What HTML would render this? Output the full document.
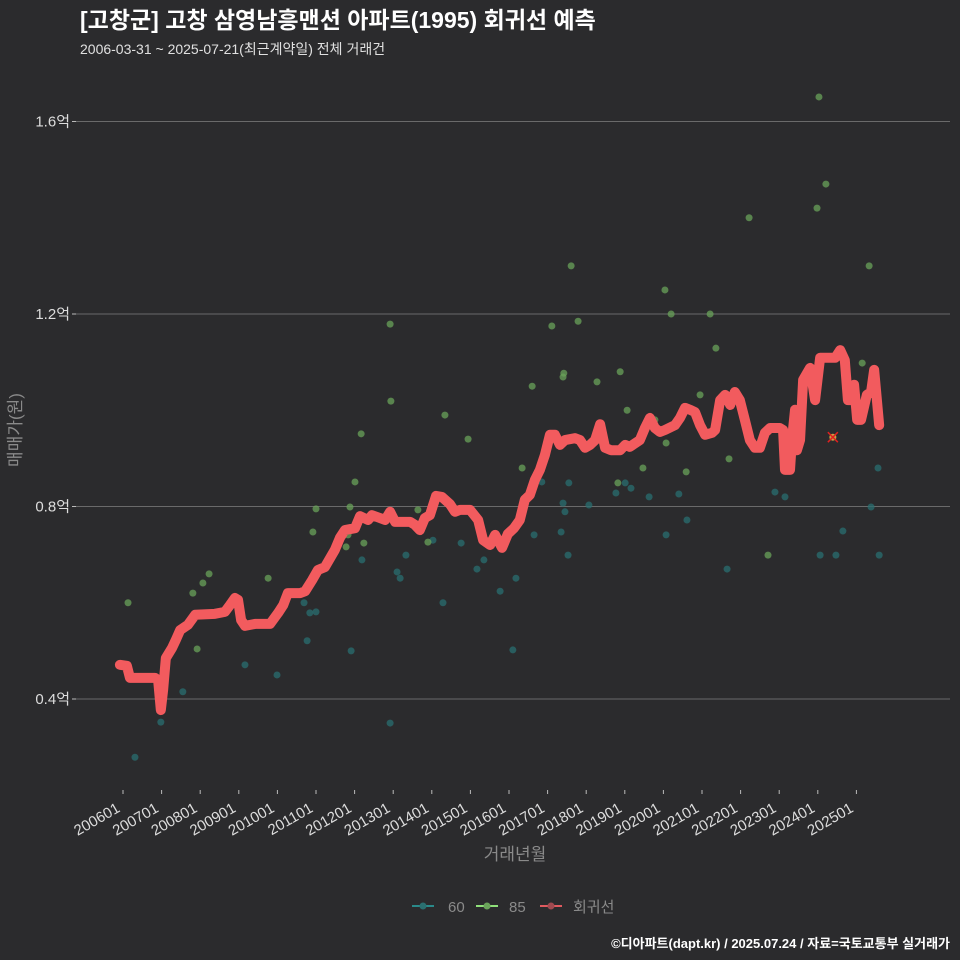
<!DOCTYPE html>
<html><head><meta charset="utf-8"><style>
html,body{margin:0;padding:0;background:#2b2b2d;}
body{width:960px;height:960px;overflow:hidden;font-family:"Liberation Sans","Noto Sans CJK KR",sans-serif;}
</style></head><body>
<svg id="chart" width="960" height="960" xmlns="http://www.w3.org/2000/svg" style="font-family:'Liberation Sans','Noto Sans CJK KR',sans-serif;display:block">
<rect width="960" height="960" fill="#2b2b2d"/>
<text x="80" y="28" fill="#ffffff" font-size="23" font-weight="bold">[고창군] 고창 삼영남흥맨션 아파트(1995) 회귀선 예측</text>
<text x="80" y="54" fill="#e0e0e0" font-size="14">2006-03-31 ~ 2025-07-21(최근계약일) 전체 거래건</text>
<g id="grid"></g>
<g id="yaxis"></g>
<g id="xaxis"></g>
<g id="dots60"></g>
<g id="dots85"></g>
<g id="reg"></g>
<text x="0" y="0" transform="translate(21,430) rotate(-90)" text-anchor="middle" fill="#8a8a8a" font-size="17">매매가(원)</text>
<text x="515" y="860" text-anchor="middle" fill="#8a8a8a" font-size="17">거래년월</text>
<g>
<g><line x1="412" y1="906" x2="434" y2="906" stroke="#2a8a8a" stroke-width="2"/><circle cx="423" cy="906" r="3.5" fill="#2a6f70"/><text x="448" y="912" fill="#8a8a8a" font-size="15">60</text></g>
<g><line x1="476" y1="906" x2="498" y2="906" stroke="#8fe07a" stroke-width="2"/><circle cx="487" cy="906" r="3.5" fill="#6aa35a"/><text x="509" y="912" fill="#8a8a8a" font-size="15">85</text></g>
<g><line x1="540" y1="906" x2="562" y2="906" stroke="#e05a5f" stroke-width="2"/><circle cx="551" cy="906" r="3.5" fill="#a04a50"/><text x="573" y="912" fill="#8a8a8a" font-size="15">회귀선</text></g>
</g>
<text x="950" y="948" text-anchor="end" fill="#ffffff" font-size="13" font-weight="bold">©디아파트(dapt.kr) / 2025.07.24 / 자료=국토교통부 실거래가</text>
</svg>
<script>
const yTicks=[0.4,0.8,1.2,1.6];
const yTickLabels=["0.4억","0.8억","1.2억","1.6억"];
const xTickYears=[2006,2007,2008,2009,2010,2011,2012,2013,2014,2015,2016,2017,2018,2019,2020,2021,2022,2023,2024,2025];
const xTickLabels=["200601","200701","200801","200901","201001","201101","201201","201301","201401","201501","201601","201701","201801","201901","202001","202101","202201","202301","202401","202501"];
const regT=[2005.92,2006.10,2006.18,2006.83,2006.91,2006.98,2007.04,2007.11,2007.27,2007.37,2007.48,2007.68,2007.87,2008.38,2008.64,2008.77,2008.90,2008.98,2009.06,2009.16,2009.42,2009.81,2010.02,2010.15,2010.27,2010.59,2010.72,2010.90,2011.05,2011.23,2011.49,2011.62,2011.75,2012.01,2012.14,2012.35,2012.45,2012.66,2012.79,2012.92,2013.05,2013.18,2013.44,2013.56,2013.69,2013.82,2013.95,2014.11,2014.26,2014.47,2014.60,2014.73,2014.99,2015.20,2015.33,2015.51,2015.64,2015.82,2015.97,2016.13,2016.28,2016.41,2016.54,2016.67,2016.80,2016.93,2017.06,2017.19,2017.32,2017.45,2017.71,2017.84,2017.97,2018.10,2018.23,2018.36,2018.49,2018.64,2018.88,2019.01,2019.13,2019.39,2019.52,2019.65,2019.78,2019.91,2020.04,2020.30,2020.43,2020.56,2020.69,2020.82,2020.95,2021.08,2021.26,2021.34,2021.47,2021.60,2021.73,2021.85,2021.98,2022.11,2022.24,2022.37,2022.50,2022.63,2022.76,2023.02,2023.10,2023.15,2023.28,2023.33,2023.41,2023.46,2023.54,2023.62,2023.80,2023.93,2024.06,2024.19,2024.45,2024.58,2024.70,2024.78,2024.86,2024.94,2025.02,2025.12,2025.27,2025.38,2025.46,2025.59];
const regV=[0.471,0.469,0.444,0.444,0.439,0.377,0.419,0.485,0.506,0.523,0.543,0.554,0.575,0.577,0.581,0.595,0.610,0.606,0.564,0.552,0.556,0.556,0.579,0.595,0.620,0.620,0.624,0.647,0.668,0.674,0.710,0.735,0.751,0.755,0.780,0.772,0.782,0.776,0.772,0.789,0.768,0.768,0.768,0.762,0.751,0.776,0.782,0.822,0.820,0.805,0.789,0.793,0.793,0.772,0.730,0.720,0.741,0.714,0.743,0.755,0.772,0.814,0.824,0.855,0.876,0.907,0.949,0.949,0.928,0.938,0.942,0.938,0.922,0.928,0.938,0.971,0.922,0.917,0.917,0.928,0.924,0.938,0.963,0.984,0.963,0.955,0.959,0.969,0.984,1.005,1.001,0.996,0.969,0.949,0.953,0.959,1.021,1.032,1.011,1.038,1.021,0.980,0.938,0.922,0.922,0.953,0.963,0.963,0.959,0.876,0.876,0.938,1.001,0.917,0.938,1.063,1.088,1.021,1.109,1.109,1.109,1.125,1.104,1.021,1.021,1.053,0.980,0.980,1.032,1.038,1.084,0.969];
const t60=[2006.31,2006.98,2007.55,2009.16,2009.99,2010.69,2010.77,2010.84,2011.00,2011.91,2012.19,2012.92,2013.10,2013.18,2013.33,2014.03,2014.29,2014.76,2015.17,2015.35,2015.77,2016.10,2016.18,2016.65,2016.85,2017.35,2017.40,2017.45,2017.53,2017.55,2018.07,2018.77,2019.01,2019.16,2019.63,2020.07,2020.40,2020.61,2021.65,2022.89,2023.15,2024.06,2024.47,2024.65,2025.38,2025.56,2025.59];
const v60=[0.279,0.352,0.415,0.471,0.450,0.600,0.521,0.579,0.581,0.500,0.689,0.350,0.664,0.651,0.699,0.730,0.600,0.724,0.670,0.689,0.624,0.502,0.651,0.741,0.851,0.747,0.807,0.789,0.699,0.849,0.803,0.828,0.849,0.838,0.820,0.741,0.826,0.772,0.670,0.830,0.820,0.699,0.699,0.749,0.799,0.880,0.699];
const t85=[2006.13,2007.81,2007.92,2008.07,2008.23,2009.76,2010.92,2011.00,2011.78,2011.83,2011.88,2012.01,2012.17,2012.24,2012.92,2012.94,2013.64,2013.90,2014.34,2014.94,2016.34,2016.60,2017.11,2017.40,2017.42,2017.61,2017.79,2018.28,2018.82,2018.88,2019.06,2019.47,2019.78,2020.04,2020.07,2020.20,2020.59,2020.95,2021.21,2021.36,2021.70,2022.22,2022.71,2023.98,2024.21,2024.03,2025.15,2025.33];
const v85=[0.600,0.620,0.504,0.641,0.660,0.651,0.747,0.795,0.716,0.741,0.799,0.851,0.951,0.724,1.179,1.019,0.793,0.726,0.990,0.940,0.880,1.050,1.175,1.069,1.077,1.300,1.185,1.059,0.849,1.080,1.000,0.880,0.980,1.250,0.932,1.200,0.872,1.032,1.200,1.129,0.899,1.400,0.699,1.420,1.470,1.651,1.098,1.300];
const predT=[2024.39];
const predV=[0.944];

const NS="http://www.w3.org/2000/svg";
function xs(t){return 123+(t-2006)*38.6;}
function ys(v){return 699-(v-0.4)*481.25;}
function mk(tag,attrs,parent){const e=document.createElementNS(NS,tag);for(const k in attrs)e.setAttribute(k,attrs[k]);parent.appendChild(e);return e;}
const grid=document.getElementById('grid'),yax=document.getElementById('yaxis'),xax=document.getElementById('xaxis');
yTicks.forEach((v,i)=>{
  const l=mk('line',{x1:76,x2:950,y1:ys(v),y2:ys(v),stroke:'#6a6a6a','stroke-width':1},grid);
  
  
  mk('line',{x1:72,x2:76,y1:ys(v),y2:ys(v),stroke:'#bbbbbb','stroke-width':1},yax);
  const t=mk('text',{x:70,y:ys(v)+5,'text-anchor':'end',fill:'#dddddd','font-size':15},yax);
  t.textContent=yTickLabels[i];
  
  
});
xTickYears.forEach((yr,i)=>{
  const x=xs(yr);
  mk('line',{x1:x,x2:x,y1:790,y2:794,stroke:'#bbbbbb','stroke-width':1},xax);
  const t=mk('text',{x:0,y:0,'text-anchor':'end',fill:'#dddddd','font-size':15,transform:`translate(${x-2},${811}) rotate(-30)`},xax);
  t.textContent=xTickLabels[i];
  
  
});
const g60=document.getElementById('dots60'),g85=document.getElementById('dots85'),reg=document.getElementById('reg');
t60.forEach((t,i)=>{
  const c=mk('circle',{cx:xs(t),cy:ys(v60[i]),r:3.5,fill:'#2a6f70','fill-opacity':0.75},g60);
  
  
});
t85.forEach((t,i)=>{
  const c=mk('circle',{cx:xs(t),cy:ys(v85[i]),r:3.5,fill:'#6aa35a','fill-opacity':0.75},g85);
  
  
});
const p=mk('polyline',{points:regT.map((t,i)=>xs(t)+','+ys(regV[i])).join(' '),fill:'none',stroke:'#f25b5e','stroke-width':10,'stroke-linejoin':'round','stroke-linecap':'round'},reg);


predT.forEach((t,i)=>{
  const x=xs(t),y=ys(predV[i]);
  const m=mk('g',{},reg);
  
  
  mk('circle',{cx:x,cy:y,r:3.5,fill:'#c9a040'},m);
  mk('line',{x1:x-5,y1:y-5,x2:x+5,y2:y+5,stroke:'#e02020','stroke-width':1.5},m);
  mk('line',{x1:x-5,y1:y+5,x2:x+5,y2:y-5,stroke:'#e02020','stroke-width':1.5},m);
});
</script>
</body></html>
